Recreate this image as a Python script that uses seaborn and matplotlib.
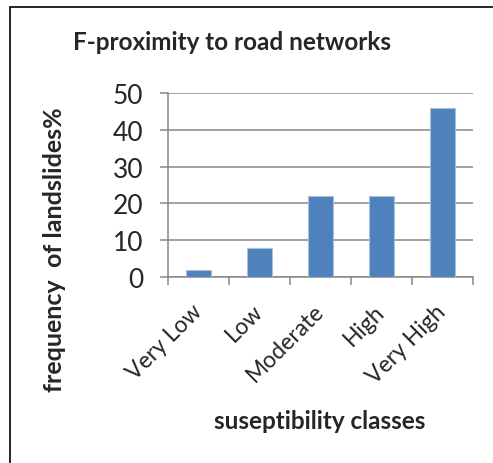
import matplotlib
matplotlib.use("Agg")
import matplotlib.pyplot as plt
import seaborn as sns
import pandas as pd
from matplotlib.patches import Rectangle

categories = ["Very Low", "Low", "Moderate", "High", "Very High"]
frequency = [2, 8, 22, 22, 46]
yticks = [0, 10, 20, 30, 40, 50]

sns.set_theme(style="white")
plt.rcParams["font.family"] = ["Lato", "DejaVu Sans"]

df = pd.DataFrame({"cls": categories, "freq": frequency})

fig = plt.figure(figsize=(4.93, 4.64), dpi=100)
ax = fig.add_axes([168 / 493, 1 - 278 / 464, (473 - 168) / 493, (278 - 94) / 464])

sns.barplot(data=df, x="cls", y="freq", color="#4F81BD", saturation=1,
            width=0.4, edgecolor="#A7C0DE", linewidth=0.8, ax=ax, zorder=3)

grey = "#878787"
ax.set_xlim(-0.5, len(categories) - 0.5)
ax.set_ylim(0, 50)
ax.set_yticks(yticks)
ax.set_yticklabels([str(t) for t in yticks], fontsize=19)
ax.yaxis.grid(True, color=grey, linewidth=1.1, zorder=0)
ax.tick_params(axis="y", length=5.8, color=grey, width=1.1, pad=12, left=True)

# category boundary ticks on the x axis
ax.set_xticks([i - 0.5 for i in range(len(categories) + 1)], minor=True)
ax.set_xticks(range(len(categories)))
ax.set_xticklabels(categories, rotation=45, ha="right", va="center",
                   rotation_mode="anchor", fontsize=16.5)
ax.tick_params(axis="x", which="major", length=0, pad=22)
ax.tick_params(axis="x", which="minor", length=5.8, color=grey, width=1.1,
               bottom=True)

for s in ["top", "right"]:
    ax.spines[s].set_visible(False)
for s in ["left", "bottom"]:
    ax.spines[s].set_color(grey)
    ax.spines[s].set_linewidth(1.1)

ax.set_xlabel("")
ax.set_ylabel("")
fig.text(232 / 493, 1 - 42 / 464, "F-proximity to road networks",
         fontsize=17.5, fontweight="bold", ha="center", va="center")
fig.text(55 / 493, 1 - 250 / 464, "frequency  of landslides%",
         fontsize=18, fontweight="bold", rotation=90, ha="center", va="center")
fig.text(320 / 493, 1 - 422 / 464, "suseptibility classes",
         fontsize=17.5, fontweight="bold", ha="center", va="center")

fig.patches.append(Rectangle((10 / 493, -0.1), 1.2, 1 - 8 / 464 + 0.1,
                             transform=fig.transFigure, fill=False,
                             edgecolor="black", linewidth=1.2))

fig.savefig("out.png", dpi=100)
